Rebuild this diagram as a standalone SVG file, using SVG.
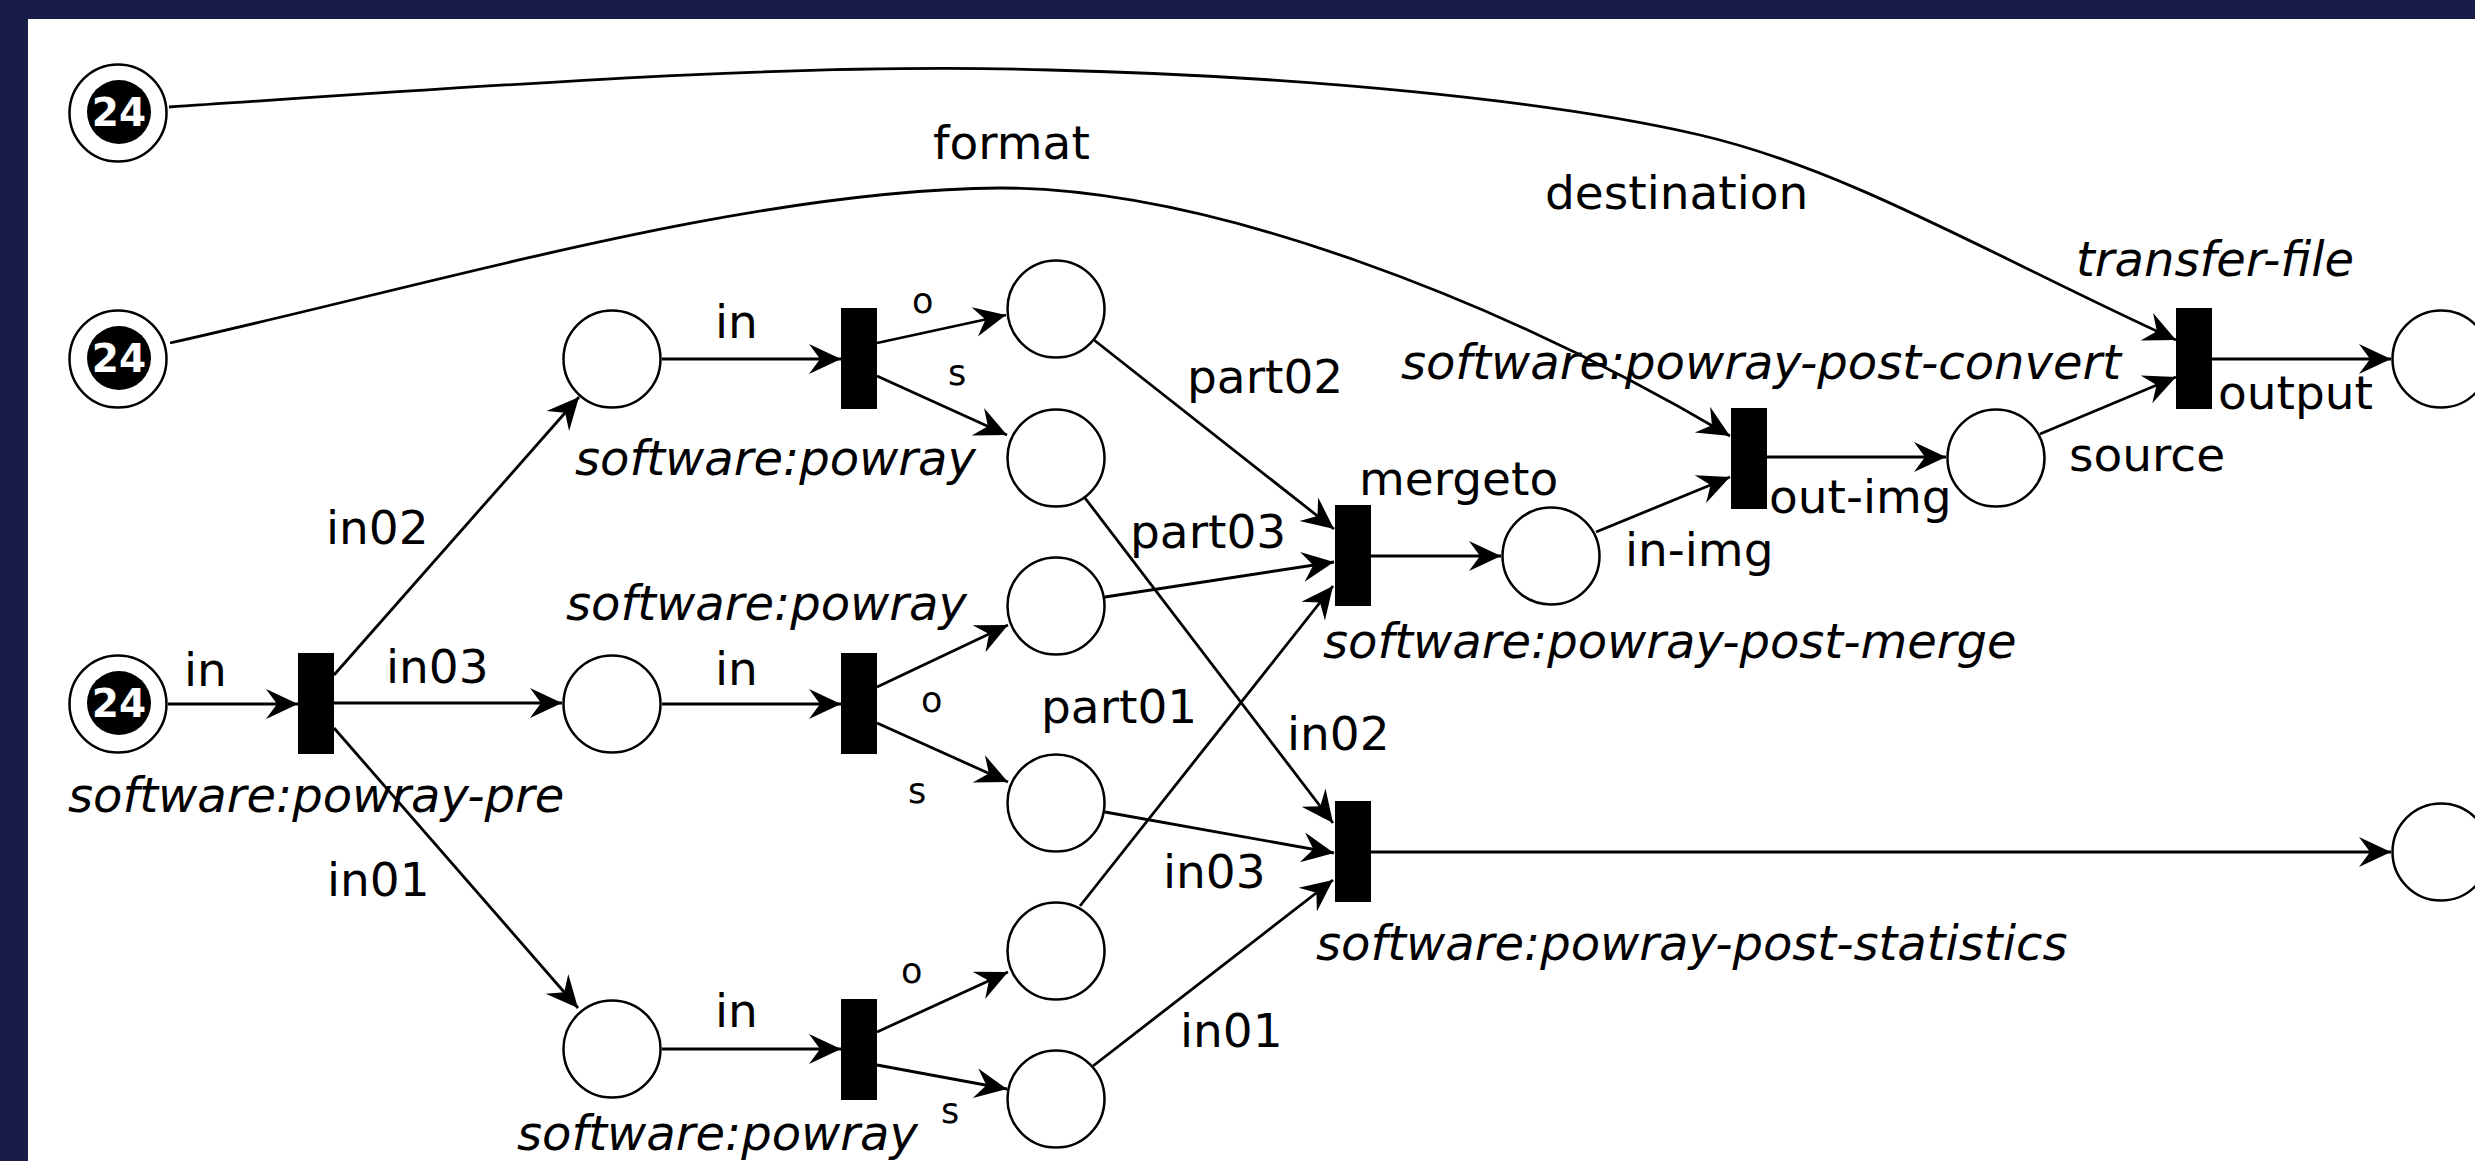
<svg xmlns="http://www.w3.org/2000/svg" width="2475" height="1161" viewBox="0 0 2475 1161">
  <style>
    .place { fill: #fff; stroke: #000; stroke-width: 2.5; }
    .token { fill: #000; }
    .count { fill: #fff; font-family: "DejaVu Sans", sans-serif; font-size: 39px; font-weight: bold; text-anchor: middle; }
    .trans { fill: #000; }
    .arc { fill: none; stroke: #000; stroke-width: 2.8; marker-end: url(#head); }
    .lbl { fill: #000; font-family: "DejaVu Sans", sans-serif; font-size: 47px; }
    .small { font-size: 35px; }
    .name { fill: #000; font-family: "DejaVu Sans", sans-serif; font-size: 48px; font-style: italic; }
  </style>
  <defs>
    <marker id="head" viewBox="-34 -17 36 34" refX="0" refY="0" markerWidth="36" markerHeight="34" markerUnits="userSpaceOnUse" orient="auto" overflow="visible">
      <path d="M0,0 L-32,-15 L-21,0 L-32,15 Z" fill="#000"/>
    </marker>
  </defs>

  <!-- frame -->
  <rect x="0" y="0" width="2475" height="1161" fill="#181d47"/>
  <rect x="28" y="19" width="2447" height="1142" fill="#fff"/>

  <!-- arcs -->
  <g id="arcs">
    <path class="arc" d="M169,107 C500,85 800,62 1050,70 C1300,76 1550,100 1700,135 C1850,170 2000,260 2176,340"/>
    <path class="arc" d="M170,343 C450,280 750,190 1000,188 C1210,188 1500,300 1730,436"/>
    <path class="arc" d="M168,704 L298,704"/>
    <path class="arc" d="M334,675 L579,397"/>
    <path class="arc" d="M334,703 L562,703"/>
    <path class="arc" d="M334,728 L578,1008"/>
    <path class="arc" d="M662,359 L841,359"/>
    <path class="arc" d="M662,704 L841,704"/>
    <path class="arc" d="M662,1049 L841,1049"/>
    <path class="arc" d="M877,343 L1006,315"/>
    <path class="arc" d="M877,376 L1007,435"/>
    <path class="arc" d="M877,687 L1008,625"/>
    <path class="arc" d="M877,723 L1008,782"/>
    <path class="arc" d="M877,1032 L1008,972"/>
    <path class="arc" d="M877,1065 L1007,1089"/>
    <path class="arc" d="M1094,340 L1334,529"/>
    <path class="arc" d="M1105,597 L1334,562"/>
    <path class="arc" d="M1080,906 L1333,586"/>
    <path class="arc" d="M1085,498 L1333,823"/>
    <path class="arc" d="M1105,812 L1334,853"/>
    <path class="arc" d="M1093,1066 L1333,880"/>
    <path class="arc" d="M1371,556 L1501,556"/>
    <path class="arc" d="M1596,532 L1730,477"/>
    <path class="arc" d="M1766,457 L1946,457"/>
    <path class="arc" d="M2040,434 L2176,377"/>
    <path class="arc" d="M2212,359 L2391,359"/>
    <path class="arc" d="M1371,852 L2391,852"/>

    <!-- arc inscriptions -->
    <text class="lbl" x="1545" y="209">destination</text>
    <text class="lbl" x="933" y="159">format</text>
    <text class="lbl" x="184" y="686">in</text>
    <text class="lbl" x="326" y="544">in02</text>
    <text class="lbl" x="386" y="683">in03</text>
    <text class="lbl" x="327" y="896">in01</text>
    <text class="lbl" x="715" y="338">in</text>
    <text class="lbl" x="715" y="685">in</text>
    <text class="lbl" x="715" y="1027">in</text>
    <text class="lbl small" x="912" y="313">o</text>
    <text class="lbl small" x="948" y="385">s</text>
    <text class="lbl small" x="921" y="712">o</text>
    <text class="lbl small" x="908" y="803">s</text>
    <text class="lbl small" x="901" y="983">o</text>
    <text class="lbl small" x="941" y="1123">s</text>
    <text class="lbl" x="1187" y="393">part02</text>
    <text class="lbl" x="1130" y="548">part03</text>
    <text class="lbl" x="1041" y="723">part01</text>
    <text class="lbl" x="1287" y="750">in02</text>
    <text class="lbl" x="1163" y="888">in03</text>
    <text class="lbl" x="1180" y="1047">in01</text>
    <text class="lbl" x="1359" y="495">mergeto</text>
    <text class="lbl" x="1625" y="566">in-img</text>
    <text class="lbl" x="1769" y="513">out-img</text>
    <text class="lbl" x="2069" y="471">source</text>
    <text class="lbl" x="2218" y="409">output</text>
  </g>

  <!-- input places with 24 tokens -->
  <g id="p-destination">
    <circle class="place" cx="118" cy="113" r="48.5"/>
    <circle class="token" cx="119" cy="112" r="32"/>
    <text class="count" x="119" y="126">24</text>
  </g>
  <g id="p-format">
    <circle class="place" cx="118" cy="359" r="48.5"/>
    <circle class="token" cx="119" cy="358" r="32"/>
    <text class="count" x="119" y="372">24</text>
  </g>
  <g id="p-input">
    <circle class="place" cx="118" cy="704" r="48.5"/>
    <circle class="token" cx="119" cy="703" r="32"/>
    <text class="count" x="119" y="717">24</text>
  </g>

  <!-- pre-processing -->
  <g id="t-pre">
    <rect class="trans" x="298" y="653" width="36" height="101"/>
    <text class="name" x="68" y="812">software:powray-pre</text>
  </g>

  <!-- split parts -->
  <g id="p-part2"><circle class="place" cx="612" cy="359" r="48.5"/></g>
  <g id="p-part3"><circle class="place" cx="612" cy="704" r="48.5"/></g>
  <g id="p-part1"><circle class="place" cx="612" cy="1049" r="48.5"/></g>

  <!-- render transitions -->
  <g id="t-powray-2">
    <rect class="trans" x="841" y="308" width="36" height="101"/>
    <text class="name" x="575" y="475">software:powray</text>
  </g>
  <g id="t-powray-3">
    <rect class="trans" x="841" y="653" width="36" height="101"/>
    <text class="name" x="566" y="620">software:powray</text>
  </g>
  <g id="t-powray-1">
    <rect class="trans" x="841" y="999" width="36" height="101"/>
    <text class="name" x="517" y="1150">software:powray</text>
  </g>

  <!-- render outputs -->
  <g id="p-o2"><circle class="place" cx="1056" cy="309" r="48.5"/></g>
  <g id="p-s2"><circle class="place" cx="1056" cy="458" r="48.5"/></g>
  <g id="p-o3"><circle class="place" cx="1056" cy="606" r="48.5"/></g>
  <g id="p-s3"><circle class="place" cx="1056" cy="803" r="48.5"/></g>
  <g id="p-o1"><circle class="place" cx="1056" cy="951" r="48.5"/></g>
  <g id="p-s1"><circle class="place" cx="1056" cy="1099" r="48.5"/></g>

  <!-- post-processing -->
  <g id="t-merge">
    <rect class="trans" x="1335" y="505" width="36" height="101"/>
    <text class="name" x="1323" y="658">software:powray-post-merge</text>
  </g>
  <g id="t-statistics">
    <rect class="trans" x="1335" y="801" width="36" height="101"/>
    <text class="name" x="1316" y="960">software:powray-post-statistics</text>
  </g>
  <g id="p-merged"><circle class="place" cx="1551" cy="556" r="48.5"/></g>
  <g id="t-convert">
    <rect class="trans" x="1731" y="408" width="36" height="101"/>
    <text class="name" x="2121" y="379" text-anchor="end">software:powray-post-convert</text>
  </g>
  <g id="p-image"><circle class="place" cx="1996" cy="458" r="48.5"/></g>
  <g id="t-transfer">
    <rect class="trans" x="2176" y="308" width="36" height="101"/>
    <text class="name" x="2076" y="276">transfer-file</text>
  </g>
  <g id="p-result"><circle class="place" cx="2441" cy="359" r="48.5"/></g>
  <g id="p-stats"><circle class="place" cx="2441" cy="852" r="48.5"/></g>
</svg>
